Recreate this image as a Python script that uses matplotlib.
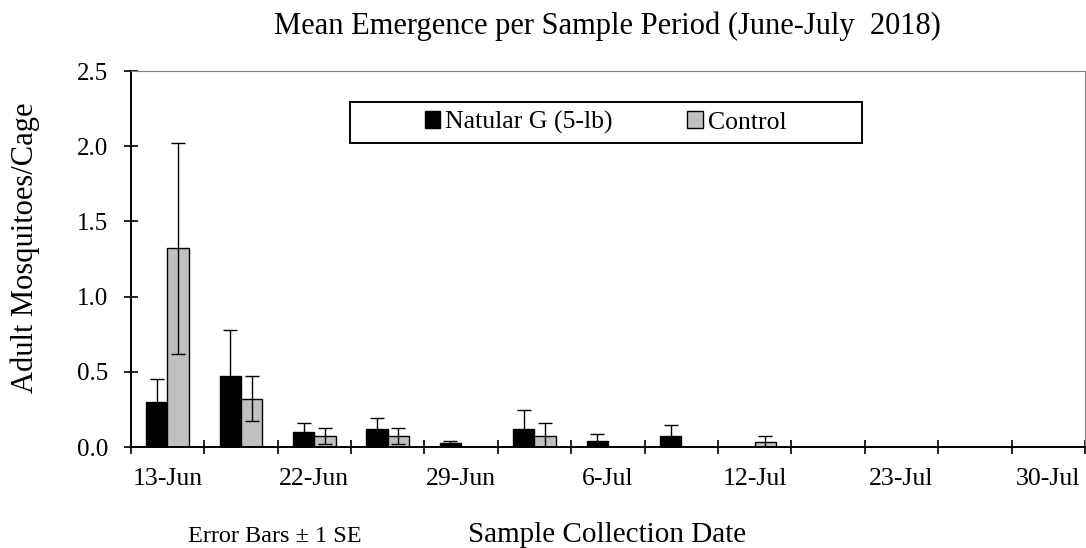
import numpy as np
import matplotlib
matplotlib.use('Agg')
import matplotlib.pyplot as plt
from matplotlib.patches import Rectangle

plt.rcParams['font.family'] = ['Liberation Serif', 'DejaVu Serif']

# sample periods (only every other one is labelled on the axis)
dates = ['13-Jun', '', '22-Jun', '', '29-Jun', '', '6-Jul', '', '12-Jul', '', '23-Jul', '', '30-Jul']

natular = [0.30, 0.47, 0.10, 0.12, 0.025, 0.12, 0.042, 0.075, 0.0, 0.0, 0.0, 0.0, 0.0]
natular_se = [0.15, 0.31, 0.06, 0.073, 0.017, 0.125, 0.044, 0.073, 0.0, 0.0, 0.0, 0.0, 0.0]
control = [1.32, 0.32, 0.075, 0.075, 0.0, 0.075, 0.0, 0.0, 0.031, 0.0, 0.0, 0.0, 0.0]
control_se = [0.70, 0.15, 0.053, 0.053, 0.0, 0.085, 0.0, 0.0, 0.042, 0.0, 0.0, 0.0, 0.0]

x = np.arange(len(dates))
w = 0.29

fig = plt.figure(figsize=(10.86, 5.48), dpi=100)
ax = fig.add_axes([0.1204, 0.1843, 0.8787, 0.6861])

b1 = ax.bar(x - w/2, natular, w, color='black', edgecolor='black', linewidth=1, label='Natular G (5-lb)', zorder=2)
b2 = ax.bar(x + w/2, control, w, color='#c0c0c0', edgecolor='black', linewidth=1, label='Control', zorder=2)

# error bars only where there is an SE
for xs, ys, es in [(x - w/2, natular, natular_se), (x + w/2, control, control_se)]:
    ys = np.array(ys); es = np.array(es)
    m = es > 0
    ax.errorbar(xs[m], ys[m], yerr=es[m], fmt='none', ecolor='black', elinewidth=1, capsize=5, capthick=1, zorder=3)

ax.set_xlim(-0.5, len(dates) - 0.5)
ax.set_ylim(0, 2.5)
ax.set_yticks(np.arange(0, 2.51, 0.5))
ax.set_yticklabels(['%.1f' % v for v in np.arange(0, 2.51, 0.5)])
ax.set_xticks(x)
ax.set_xticklabels(dates)
ax.set_xticks(np.arange(-0.5, len(dates), 1), minor=True)
ax.tick_params(axis='x', which='major', length=0, pad=15, labelsize=18.5)
ax.tick_params(axis='x', which='minor', direction='inout', length=10, width=1.2)
ax.tick_params(axis='y', direction='inout', length=10, width=1.2, pad=11, labelsize=18)

for s in ['left', 'bottom']:
    ax.spines[s].set_linewidth(1.4)
    ax.spines[s].set_color('black')
for s in ['top', 'right']:
    ax.spines[s].set_linewidth(0.8)
    ax.spines[s].set_color('#808080')

# legend box
ax.add_patch(Rectangle((0.2298, 0.8085), 0.5362, 0.109, transform=ax.transAxes,
                       facecolor='white', edgecolor='black', linewidth=1.4, zorder=4))
ax.legend(handles=[b1, b2], loc='center', bbox_to_anchor=(0.4975, 0.863), frameon=False,
          ncol=2, handlelength=0.6, handleheight=0.6, handletextpad=0.2,
          columnspacing=2.9, fontsize=18.5, borderpad=0, borderaxespad=0)

fig.text(0.559, 1 - 34/548, 'Mean Emergence per Sample Period (June-July  2018)',
         ha='center', va='baseline', fontsize=22)
fig.text(0.559, 1 - 542/548, 'Sample Collection Date', ha='center', va='baseline', fontsize=21)
fig.text(188/1086, 1 - 542/548, 'Error Bars \u00b1 1 SE', ha='left', va='baseline', fontsize=17.5)
fig.text(25.5/1086, 1 - 248/548, 'Adult Mosquitoes/Cage', rotation=90, ha='center', va='center', fontsize=22)

fig.savefig('out.png', dpi=100)
